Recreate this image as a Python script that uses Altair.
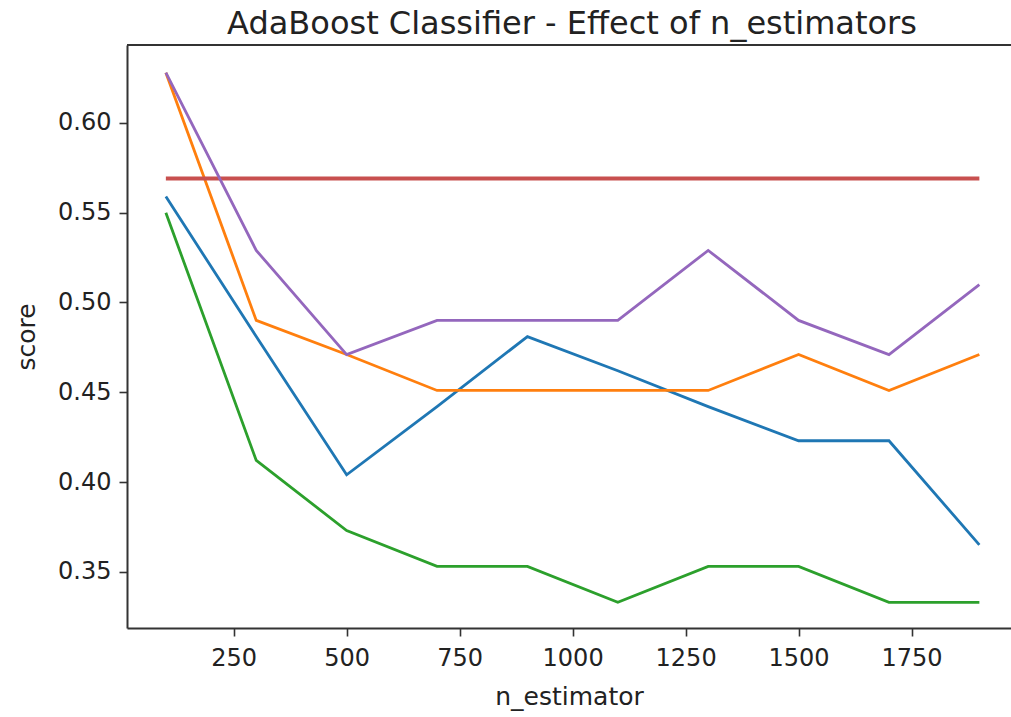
import altair as alt
import pandas as pd

n_estimators = [100, 300, 500, 700, 900, 1100, 1300, 1500, 1700, 1900]
series_blue = [0.559, 0.481, 0.404, 0.442, 0.481, 0.462, 0.442, 0.423, 0.423, 0.365]
series_orange = [0.628, 0.490, 0.471, 0.451, 0.451, 0.451, 0.451, 0.471, 0.451, 0.471]
series_green = [0.550, 0.412, 0.373, 0.353, 0.353, 0.333, 0.353, 0.353, 0.333, 0.333]
series_red = [0.569, 0.569, 0.569, 0.569, 0.569, 0.569, 0.569, 0.569, 0.569, 0.569]
series_purple = [0.628, 0.529, 0.471, 0.490, 0.490, 0.490, 0.529, 0.490, 0.471, 0.510]

series_names = ["s1", "s2", "s3", "s4", "s5"]
series_colors = ["#1f77b4", "#ff7f0e", "#2ca02c", "#c8504f", "#9467bd"]
x_ticks = [250, 500, 750, 1000, 1250, 1500, 1750]
y_ticks = [0.35, 0.40, 0.45, 0.50, 0.55, 0.60]

rows = []
for name, vals in zip(series_names, [series_blue, series_orange, series_green, series_red, series_purple]):
    for n, v in zip(n_estimators, vals):
        rows.append({"series": name, "n_estimator": n, "score": v})
df = pd.DataFrame(rows)

W, H = 884, 583
FONT = "DejaVu Sans"

x_enc = alt.X("n_estimator:Q", title="n_estimator",
              scale=alt.Scale(domain=[14, 1970], nice=False, zero=False),
              axis=alt.Axis(values=x_ticks, format="d", grid=False, tickSize=8,
                            labelPadding=10, titlePadding=14))
y_enc = alt.Y("score:Q", title="score",
              scale=alt.Scale(domain=[0.3187, 0.6434], nice=False, zero=False),
              axis=alt.Axis(values=y_ticks, format=".2f", grid=False, tickSize=8,
                            labelPadding=8, titlePadding=18))

def line_for(name, color, width):
    return alt.Chart(df[df.series == name]).mark_line(
        color=color, strokeWidth=width, clip=True
    ).encode(x=x_enc, y=y_enc)

layers = []
for name, color in zip(series_names, series_colors):
    layers.append(line_for(name, color, 4.0 if name == "s4" else 2.8))

top_border = alt.Chart(pd.DataFrame({"a": [0]})).mark_rule(
    color="#333", strokeWidth=2
).encode(x=alt.value(0), x2=alt.value(W), y=alt.value(0))

chart = alt.layer(*layers, top_border).properties(
    width=W, height=H, background="white",
    title=alt.Title("AdaBoost Classifier - Effect of n_estimators",
                    fontSize=32, font=FONT, fontWeight="normal", color="#222",
                    anchor="middle", offset=3, frame="group", dx=3),
    autosize=alt.AutoSizeParams(type="none"),
    padding={"left": 127, "top": 45, "right": 0, "bottom": 89},
).configure_view(stroke=None).configure_axis(
    labelFont=FONT, titleFont=FONT, labelFontSize=24, titleFontSize=25,
    titleFontWeight="normal", labelColor="#222", titleColor="#222",
    domainColor="#333", domainWidth=2, tickColor="#333", tickWidth=1.6,
)

chart.save("out.html", embed_options={"renderer": "svg", "actions": False})
